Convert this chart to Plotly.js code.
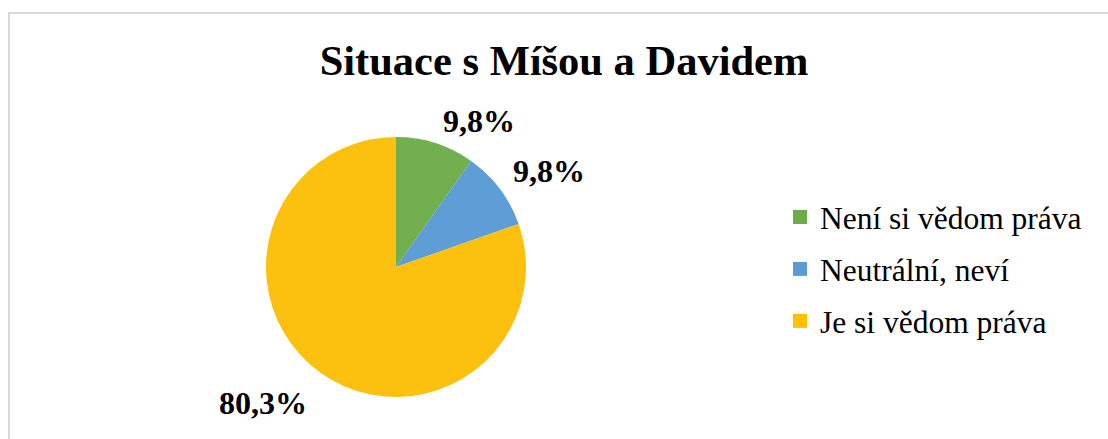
<!DOCTYPE html>
<html>
<head>
<meta charset="utf-8">
<script src="https://cdn.plot.ly/plotly-3.0.1.min.js"></script>
<style>
html,body{margin:0;padding:0;background:#fff;}
#frame{position:absolute;left:8px;top:12px;width:1120px;height:460px;border:2px solid #d9d9d9;box-sizing:border-box;pointer-events:none;z-index:5;}
#chart{position:absolute;left:0;top:0;width:1108px;height:439px;}
</style>
</head>
<body>
<div id="chart"></div>
<div id="frame"></div>
<script>
const chartTitle = "Situace s Míšou a Davidem";
const categories = ["Není si vědom práva", "Neutrální, neví", "Je si vědom práva"];
const values = [9.8, 9.8, 80.3];
const valueLabels = ["9,8%", "9,8%", "80,3%"];
const colors = ["#72AF4E", "#5E9DD6", "#FBC10E"];
const legendColors = ["#6EAC48", "#5B9BD5", "#FFC000"];

const FONT = "Liberation Serif";
const W = 1108, H = 439;

// label placement (pixel centres, Excel best-fit style)
const labelPos = [[479, 121], [549, 171], [263, 403]];

const pie = {
  type: "pie",
  labels: categories,
  values: values,
  textinfo: "none",
  textposition: "none",
  sort: false,
  direction: "clockwise",
  rotation: 0,
  marker: {colors: colors, line: {width: 0}},
  hoverinfo: "none",
  automargin: false,
  showlegend: false,
  domain: {x: [266/W, 526/W], y: [42/H, 302/H]}
};

const legendTraces = categories.map((name, i) => ({
  type: "scatter",
  mode: "markers",
  x: [null], y: [null],
  name: name,
  legendgroup: "g" + i,
  showlegend: true,
  marker: {symbol: "square", size: 14, color: legendColors[i]},
  hoverinfo: "none"
}));

const annotations = valueLabels.map((t, i) => ({
  text: "<b>" + t + "</b>",
  xref: "paper", yref: "paper",
  x: labelPos[i][0] / W, y: 1 - labelPos[i][1] / H,
  xanchor: "center", yanchor: "middle",
  showarrow: false,
  font: {family: FONT, size: 32, color: "#000"}
}));

const layout = {
  width: W, height: H,
  margin: {l: 0, r: 0, t: 0, b: 0},
  paper_bgcolor: "rgba(0,0,0,0)",
  plot_bgcolor: "rgba(0,0,0,0)",
  xaxis: {visible: false, domain: [0.98, 1]},
  yaxis: {visible: false, domain: [0.98, 1]},
  title: {
    text: "<b>" + chartTitle + "</b>",
    font: {family: FONT, size: 42.5, color: "#000"},
    x: 564/W, xanchor: "center",
    y: 1 - 60/H, yanchor: "middle", yref: "container"
  },
  annotations: annotations,
  showlegend: true,
  legend: {
    x: 780/W, xanchor: "left",
    y: 1 - 269/H, yanchor: "middle",
    font: {family: FONT, size: 31.5, color: "#000"},
    bgcolor: "rgba(0,0,0,0)",
    tracegroupgap: 8,
    itemwidth: 30,
    itemsizing: "trace"
  }
};

Plotly.newPlot("chart", [pie].concat(legendTraces), layout, {displayModeBar: false, staticPlot: true});
</script>
</body>
</html>
